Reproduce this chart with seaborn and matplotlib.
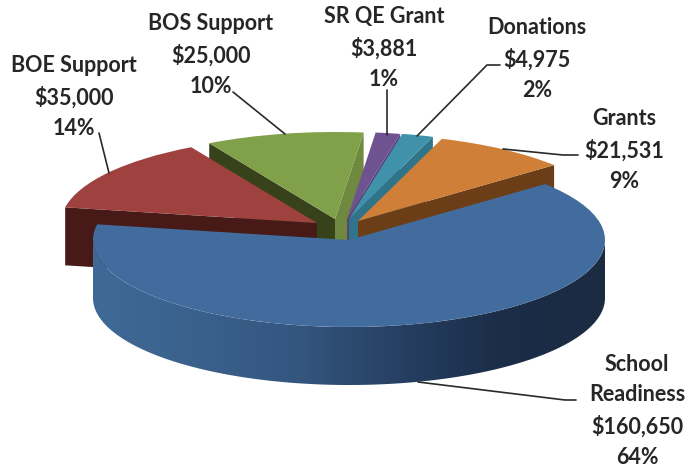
import numpy as np
import seaborn as sns
import matplotlib
matplotlib.use('Agg')
import matplotlib.pyplot as plt
from matplotlib.patches import Polygon
from matplotlib.transforms import Affine2D

# Data
names = ['School\nReadiness', 'BOE Support', 'BOS Support', 'SR QE Grant', 'Donations', 'Grants']
amounts = [160650, 35000, 25000, 3881, 4975, 21531]
percents = [64, 14, 10, 1, 2, 9]

top_colors = ['#426c9e', '#9e413f', '#80a04a', '#6f5290', '#3f92aa', '#cf7f37']
wall_hi_colors = [None, '#471a17', '#37421a', None, None, None]
wall_lo_colors = [None, None, '#6f8a40', '#5a4277', '#2f7488', '#6b3e18']
side_gradient = ['#3f6a97', '#3a618c', '#33567f', '#263f62', '#1b2d47', '#1a2b42']

# Layout in pixels of the 685x470 picture
RX, RY, DEPTH = 256, 87, 58
centers = [(349, 240), (317, 223), (335, 219), (347, 219), (349, 219), (358, 221)]
draw_order = [6, 2, 1, 3, 4, 5]
label_pos = [(637, 411), (74, 97), (211, 55), (384, 48), (537, 59), (624, 150)]
leaders = [
    [(576, 400), (565, 400), (418, 382)],
    [(99, 133), (109, 173)],
    [(233, 92), (285, 134)],
    [(387, 90), (387, 135)],
    [(500, 65), (487, 65), (417, 136)],
    [(578, 155), (563, 155), (503, 149)],
]

sns.set_theme(style='white')
plt.rcParams['font.family'] = ['Lato', 'DejaVu Sans']

fig = plt.figure(figsize=(6.85, 4.70), dpi=100)
ax = fig.add_axes([0, 0, 1, 1])

wedges, _ = ax.pie(amounts, colors=top_colors, startangle=40, counterclock=False, radius=1)
ax.set_aspect('auto')


def point(center, deg, dz=0):
    rad = np.radians(deg)
    return center[0] + RX * np.cos(rad), center[1] - RY * np.sin(rad) + dz


def edge_wall(center, deg):
    a = point(center, deg)
    return [center, a, (a[0], a[1] + DEPTH), (center[0], center[1] + DEPTH)]


for i, w in enumerate(wedges):
    c = centers[i]
    z = draw_order[i]
    w.set_transform(Affine2D().scale(RX, -RY).translate(*c) + ax.transData)
    w.set_zorder(z + 0.5)
    w.set_edgecolor('none')
    if wall_hi_colors[i]:
        ax.add_patch(Polygon(edge_wall(c, w.theta2), closed=True, fc=wall_hi_colors[i], ec='none', zorder=z))
    if wall_lo_colors[i]:
        ax.add_patch(Polygon(edge_wall(c, w.theta1), closed=True, fc=wall_lo_colors[i], ec='none', zorder=z))

# Round front side of the big slice, shaded left to right
c = centers[0]
arc = np.linspace(180, 360, 200)
upper = [point(c, t) for t in arc]
lower = [point(c, t, DEPTH) for t in arc[::-1]]
side = Polygon(upper + lower, closed=True, fc='none', ec='none', transform=ax.transData)
ax.add_patch(side)
shade = ax.imshow(np.linspace(0, 1, 256).reshape(1, -1), cmap=sns.blend_palette(side_gradient, as_cmap=True),
                  extent=(c[0] - RX, c[0] + RX, c[1] + RY + DEPTH, c[1] - 5), aspect='auto', zorder=draw_order[0])
shade.set_clip_path(side)

for i in range(len(names)):
    ax.text(label_pos[i][0], label_pos[i][1], f'{names[i]}\n${amounts[i]:,}\n{percents[i]}%',
            ha='center', va='center', fontsize=15.5, fontweight='bold', color='#262626',
            linespacing=1.56, zorder=10)
    xs, ys = zip(*leaders[i])
    ax.plot(xs, ys, color='#2a2a2a', lw=1.2, zorder=9)

ax.set_xlim(0, 685)
ax.set_ylim(470, 0)
ax.axis('off')

plt.savefig('out.png', dpi=100)
plt.close()
